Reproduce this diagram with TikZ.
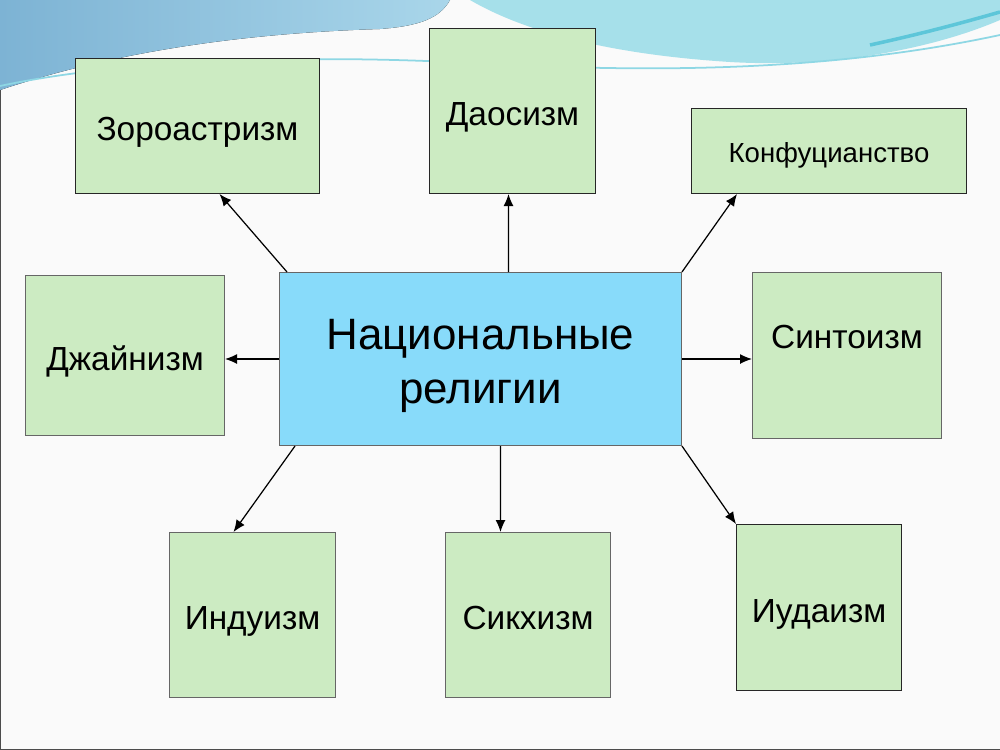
\documentclass[tikz,border=0pt]{standalone}
\usepackage{fontspec}
\setmainfont{Liberation Sans}
\usetikzlibrary{arrows.meta, positioning, calc}
\definecolor{leaf}{HTML}{CCEBC2}
\definecolor{sky}{HTML}{88DBFA}
\definecolor{paper}{HTML}{FAFAFA}
\definecolor{wavedeep}{HTML}{7DB3D4}
\definecolor{wavelight}{HTML}{A9D6EA}
\definecolor{lagoon}{HTML}{A6E0EA}
\definecolor{swoosh}{HTML}{5DC6D9}

\begin{document}
\begin{tikzpicture}[x=0.02cm, y=-0.02cm, >={Latex[length=2.4mm, width=2mm]},
    rel/.style={draw=black!85, line width=0.6pt, fill=leaf, anchor=north west, inner sep=0pt,
      align=center, font=\fontsize{19}{23}\selectfont, text height=16.5pt, text depth=0pt},
    link/.style={->, line width=0.7pt}]
  \useasboundingbox (0,0) rectangle (1000,750);
  \fill[paper] (0,0) rectangle (1000,750);
  \fill[left color=wavedeep, right color=wavelight]
    (0,0) -- (450,0) .. controls (440,18) and (420,26) .. (380,29)
    .. controls (250,33) and (120,50) .. (0,90) -- cycle;
  \fill[lagoon] (470,0) -- (1000,0) -- (1000,20) .. controls (930,50) and (830,68) .. (730,62)
    .. controls (620,55) and (530,35) .. (470,0) -- cycle;
  \draw[swoosh, line width=2pt] (870,45) .. controls (925,33) and (965,22) .. (1000,12);
  \draw[swoosh!70, line width=1pt] (0,86) .. controls (120,60) and (300,55) .. (450,62)
    .. controls (600,70) and (800,78) .. (1000,35);
  \draw[black!70, line width=0.8pt] (0.5,90) -- (0.5,749.5) -- (1000,749.5);

  \node[rel, draw=black!60, fill=sky, minimum width=8.04cm, minimum height=3.46cm,
    font=\fontsize{25}{30.5}\selectfont, text height=, text depth=]
    (nat) at (279,272) {\rule{0pt}{25pt}Национальные\\религии};

  \node[rel, minimum width=4.88cm, minimum height=2.7cm] (zor) at (75,58) {Зороастризм};
  \node[rel, minimum width=3.32cm, minimum height=3.3cm] (dao) at (429,28) {Даосизм};
  \node[rel, minimum width=5.5cm, minimum height=1.7cm, font=\fontsize{15.7}{19}\selectfont,
    text height=13.4pt] (konf) at (691,108) {Конфуцианство};
  \node[rel, draw=black!60, minimum width=3.98cm, minimum height=3.2cm] (jain) at (25,275) {Джайнизм};
  \node[rel, draw=black!60, minimum width=3.78cm, minimum height=3.32cm,
    text height=13.6pt, text depth=21.5pt] (sint) at (752,272) {Синтоизм};
  \node[rel, draw=black!60, minimum width=3.32cm, minimum height=3.3cm] (ind) at (169,532) {Индуизм};
  \node[rel, draw=black!60, minimum width=3.3cm, minimum height=3.3cm] (sikh) at (445,532) {Сикхизм};
  \node[rel, minimum width=3.3cm, minimum height=3.32cm] (iud) at (736,524) {Иудаизм};

  \draw[link] ($(nat.north west)+(8,0)$) -- ($(zor.south)+(22,0)$);
  \draw[link] ($(nat.north)+(28,0)$) -- ($(dao.south)+(-4,0)$);
  \draw[link] (nat.north east) -- ($(konf.south west)+(46,0)$);
  \draw[link] (nat.west) -- (nat.west -| jain.east);
  \draw[link] (nat.east) -- (nat.east -| sint.west);
  \draw[link] ($(nat.south west)+(16,0)$) -- ($(ind.north)+(-19,0)$);
  \draw[link] ($(nat.south)+(20,0)$) -- ($(sikh.north)+(-27.5,0)$);
  \draw[link] (nat.south east) -- (iud.north west);
\end{tikzpicture}
\end{document}
